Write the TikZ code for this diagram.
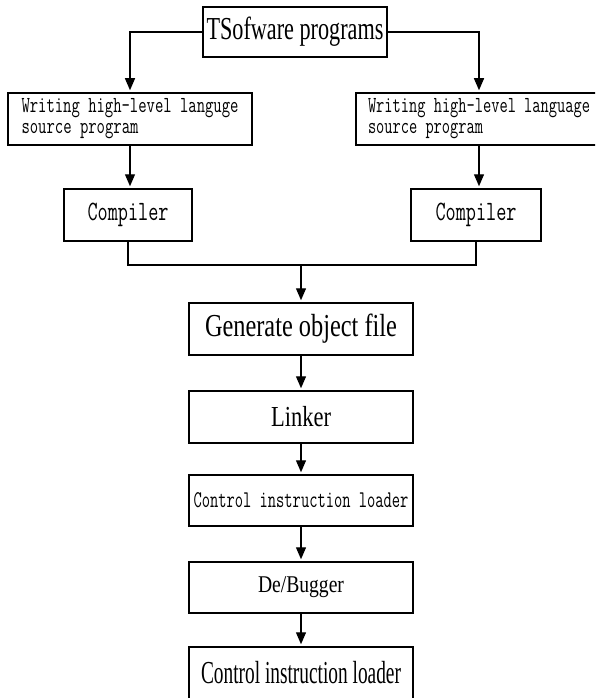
\documentclass[tikz,border=0pt]{standalone}
\usepackage{fontspec}
\usepackage{graphicx}
\setmainfont{Liberation Serif}
\usetikzlibrary{arrows.meta}
\newcommand\sq[2]{\resizebox{#1}{\height}{#2}}
\begin{document}
\begin{tikzpicture}[x=1pt,y=-1pt,
  box/.style={draw,line width=1.5pt,inner sep=0pt,minimum height=52pt},
  conn/.style={line width=1.3pt},
  arr/.style={conn,-{Triangle[width=10pt,length=12pt]},shorten >=2pt}]
\useasboundingbox (0,0) rectangle (595,698);
\fill[white] (0,0) rectangle (595,698);
\clip (0,0) rectangle (595,698);

\node[box,minimum width=184pt,minimum height=50pt] (top) at (295,32)
  {\fontsize{32}{36}\selectfont\sq{177pt}{TSofware programs}};

\node[box,minimum width=244pt,align=left,font=\ttfamily\fontsize{23}{21}\selectfont] (wl) at (130,119)
  {\sq{217pt}{Writing high-level languge}\\\sq{117pt}{source program}};
\node[box,minimum width=246pt,align=left,font=\ttfamily\fontsize{23}{21}\selectfont] (wr) at (479,119)
  {\sq{222pt}{Writing high-level language}\\\sq{115pt}{source program}};

\node[box,minimum width=128pt,font=\ttfamily\fontsize{28}{32}\selectfont] (cl) at (128,215) {\sq{81pt}{Compiler}};
\node[box,minimum width=130pt,font=\ttfamily\fontsize{28}{32}\selectfont] (cr) at (476,215) {\sq{81pt}{Compiler}};

\node[box,minimum width=224pt,font=\fontsize{32}{36}\selectfont] (gen) at (301,329) {\sq{192pt}{Generate object file}};
\node[box,minimum width=224pt,font=\fontsize{29}{33}\selectfont] (link) at (301,417) {\sq{60pt}{Linker}};
\node[box,minimum width=224pt,minimum height=51pt,font=\ttfamily\fontsize{24}{28}\selectfont] (ctl) at (301,500.5) {\sq{215pt}{Control instruction loader}};
\node[box,minimum width=224pt,minimum height=51pt,font=\fontsize{24}{28}\selectfont] (dbg) at (301,587.5) {\sq{86pt}{De/Bugger}};
\node[box,minimum width=224pt,font=\fontsize{32}{36}\selectfont] (last) at (301,673) {\sq{200pt}{Control instruction loader}};

\draw[arr] (top.west) -| (wl.north);
\draw[arr] (top.east) -| (wr.north);
\draw[arr] (wl.south) -- (wl.south |- cl.north);
\draw[arr] (wr.south) -- (wr.south |- cr.north);
\coordinate (m) at (301,265);
\draw[conn] (cl.south) |- (cr.south |- m) -- (cr.south);
\draw[arr] (m) -- (gen.north);
\draw[arr] (gen.south) -- (link.north);
\draw[arr] (link.south) -- (ctl.north);
\draw[arr] (ctl.south) -- (dbg.north);
\draw[arr] (dbg.south) -- (last.north);
\end{tikzpicture}
\end{document}
